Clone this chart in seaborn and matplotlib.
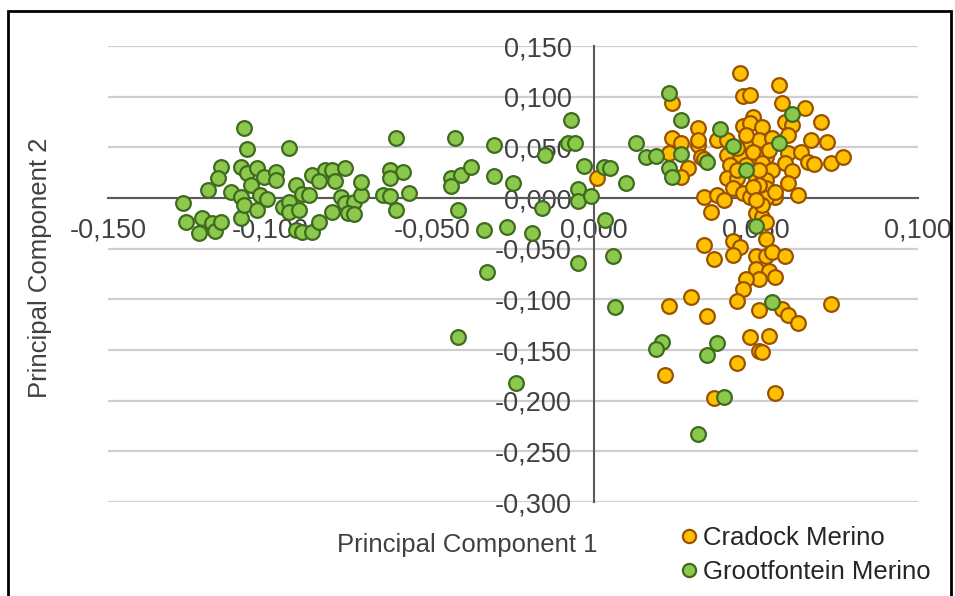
import matplotlib
matplotlib.use("Agg")
import matplotlib.pyplot as plt
import seaborn as sns
import pandas as pd
from matplotlib.ticker import FuncFormatter, FixedLocator
from matplotlib.lines import Line2D
from matplotlib.patches import Rectangle

# ---------------- data ----------------
series_names = ["Cradock Merino", "Grootfontein Merino"]

cradock_x = [0.045, 0.057, 0.046, 0.048, 0.058, 0.024, 0.065, 0.049, 0.046, 0.048,
             0.070, 0.032, 0.052, 0.059, 0.061, 0.024, 0.027, 0.032, 0.032, 0.038,
             0.041, 0.048, 0.051, 0.055, 0.060, 0.067, 0.072, 0.023, 0.033, 0.034,
             0.041, 0.045, 0.049, 0.053, 0.060, 0.064, 0.066, 0.068, 0.073, 0.077,
             0.029, 0.027, 0.042, 0.052, 0.055, 0.059, 0.061, 0.041, 0.044, 0.050,
             0.053, 0.060, 0.043, 0.046, 0.049, 0.053, 0.056, 0.063, 0.034, 0.038,
             0.040, 0.053, 0.036, 0.048, 0.050, 0.052, 0.053, 0.053, 0.034, 0.037,
             0.043, 0.045, 0.043, 0.050, 0.053, 0.055, 0.059, 0.050, 0.054, 0.056,
             0.051, 0.047, 0.046, 0.044, 0.051, 0.058, 0.060, 0.063, 0.073, 0.030,
             0.023, 0.035, 0.048, 0.054, 0.051, 0.052, 0.044, 0.022, 0.037, 0.056,
             0.001, 0.047, 0.051, 0.044, 0.051, 0.054, 0.047, 0.044, 0.056, 0.049,
             0.052, 0.050]
cradock_y = [0.123, 0.112, 0.101, 0.102, 0.094, 0.094, 0.089, 0.080, 0.071, 0.074,
             0.075, 0.069, 0.070, 0.075, 0.072, 0.059, 0.054, 0.052, 0.057, 0.057,
             0.057, 0.054, 0.057, 0.059, 0.062, 0.057, 0.055, 0.044, 0.040, 0.038,
             0.042, 0.042, 0.045, 0.040, 0.044, 0.045, 0.036, 0.034, 0.035, 0.040,
             0.030, 0.021, 0.033, 0.035, 0.028, 0.035, 0.027, 0.020, 0.020, 0.020,
             0.018, 0.015, 0.010, 0.005, 0.005, 0.010, 0.001, 0.003, 0.001, 0.003,
             -0.002, 0.000, -0.014, 0.001, -0.015, -0.019, -0.024, -0.040, -0.046, -0.060,
             -0.042, -0.048, -0.056, -0.057, -0.057, -0.053, -0.057, -0.070, -0.072, -0.078,
             -0.080, -0.080, -0.090, -0.102, -0.111, -0.110, -0.115, -0.123, -0.105, -0.098,
             -0.107, -0.116, -0.137, -0.136, -0.151, -0.152, -0.163, -0.175, -0.197, -0.192,
             0.020, 0.033, 0.013, 0.028, 0.028, 0.047, 0.062, 0.049, 0.006, 0.011,
             -0.007, -0.002]

groot_x = [-0.127, -0.126, -0.122, -0.121, -0.119, -0.118, -0.117, -0.115, -0.115, -0.116,
           -0.112, -0.109, -0.109, -0.109, -0.108, -0.107, -0.107, -0.108, -0.106, -0.104,
           -0.104, -0.103, -0.102, -0.101, -0.098, -0.098, -0.094, -0.096, -0.094, -0.094,
           -0.091, -0.092, -0.090, -0.088, -0.092, -0.090, -0.087, -0.085, -0.087, -0.083,
           -0.081, -0.077, -0.085, -0.080, -0.078, -0.077, -0.074, -0.072, -0.081, -0.076,
           -0.074, -0.072, -0.065, -0.063, -0.063, -0.059, -0.063, -0.061, -0.061, -0.057,
           -0.044, -0.041, -0.038, -0.031, -0.044, -0.043, -0.042, -0.031, -0.027, -0.034,
           -0.019, -0.033, -0.042, -0.024, -0.025, -0.016, -0.015, -0.008, -0.006, -0.007,
           -0.005, -0.005, -0.001, -0.003, -0.005,
           0.003, 0.005, 0.006, 0.0065, 0.0034, 0.010, 0.013, 0.016, 0.019, 0.023,
           0.027, 0.027, 0.023, 0.024, 0.039, 0.043, 0.035, 0.047, 0.057, 0.061,
           0.050, 0.055, 0.021, 0.019, 0.038, 0.035, 0.040, 0.032]
groot_y = [-0.005, -0.024, -0.035, -0.020, 0.008, -0.025, -0.033, -0.024, 0.031, 0.020,
           0.006, 0.001, -0.020, 0.031, 0.069, 0.048, 0.025, -0.007, 0.013, 0.030,
           -0.012, 0.003, 0.021, -0.001, 0.026, 0.018, 0.049, -0.009, -0.004, -0.014,
           -0.012, 0.013, 0.004, 0.003, -0.032, -0.034, -0.034, -0.024, 0.023, 0.028,
           0.028, 0.030, 0.017, 0.017, 0.001, -0.005, -0.004, 0.003, -0.014, -0.015,
           -0.016, 0.016, 0.003, 0.002, 0.028, 0.026, 0.020, 0.059, -0.012, 0.005,
           0.020, 0.023, 0.031, 0.022, 0.012, 0.059, -0.012, 0.052, -0.029, -0.032,
           -0.035, -0.073, -0.137, -0.183, 0.015, -0.010, 0.042, 0.054, 0.054, 0.077,
           0.009, -0.003, 0.002, 0.032, -0.064,
           0.031, 0.030, -0.057, -0.108, -0.022, 0.015, 0.054, 0.040, 0.041, 0.104,
           0.077, 0.043, 0.030, 0.021, 0.068, 0.051, 0.036, 0.028, 0.054, 0.083,
           -0.028, -0.103, -0.142, -0.149, -0.143, -0.155, -0.196, -0.233]

x_ticks = [-0.150, -0.100, -0.050, 0.000, 0.050, 0.100]
y_ticks = [-0.300, -0.250, -0.200, -0.150, -0.100, -0.050, 0.000, 0.050, 0.100, 0.150]
x_title = "Principal Component 1"
y_title = "Principal Component 2"

# ---------------- style ----------------
sns.set_theme(style="white")
plt.rcParams["font.family"] = ["Liberation Sans", "DejaVu Sans"]

W, H = 955, 596
fig = plt.figure(figsize=(W / 100, H / 100), dpi=100)
ax = fig.add_axes([108 / W, 1 - 502 / H, (918 - 108) / W, (502 - 46) / H])

fill_colors = {"Cradock Merino": "#FFC000", "Grootfontein Merino": "#8CC84B"}
edge_colors = {"Cradock Merino": "#9A5200", "Grootfontein Merino": "#3E6B1F"}

df_c = pd.DataFrame({"PC1": cradock_x, "PC2": cradock_y})
df_g = pd.DataFrame({"PC1": groot_x, "PC2": groot_y})

msize = 112
sns.scatterplot(data=df_c, x="PC1", y="PC2", ax=ax, s=msize,
                color=fill_colors[series_names[0]], edgecolor=edge_colors[series_names[0]],
                linewidth=1.6, legend=False, zorder=2)
sns.scatterplot(data=df_g, x="PC1", y="PC2", ax=ax, s=msize,
                color=fill_colors[series_names[1]], edgecolor=edge_colors[series_names[1]],
                linewidth=1.6, legend=False, zorder=2)

ax.set_xlim(x_ticks[0], x_ticks[-1])
ax.set_ylim(y_ticks[0], y_ticks[-1])
ax.xaxis.set_major_locator(FixedLocator(x_ticks))
ax.yaxis.set_major_locator(FixedLocator(y_ticks))
fmt = FuncFormatter(lambda v, p: f"{v:.3f}".replace(".", ","))
ax.xaxis.set_major_formatter(fmt)
ax.yaxis.set_major_formatter(fmt)

ax.set_axisbelow(True)
ax.yaxis.grid(True, color="#cfcfcf", linewidth=1.6)
ax.xaxis.grid(False)

for side in ["top", "right"]:
    ax.spines[side].set_visible(False)
for side in ["left", "bottom"]:
    ax.spines[side].set_position(("data", 0))
    ax.spines[side].set_color("#5a5a5a")
    ax.spines[side].set_linewidth(1.5)
    ax.spines[side].set_zorder(0.8)

ax.tick_params(axis="both", length=0, labelsize=19.5, labelcolor="#404040")
ax.tick_params(axis="x", pad=14)
ax.tick_params(axis="y", pad=16)
ax.set_xlabel("")
ax.set_ylabel("")

fs = 18.5
fig.text(467 / W, 1 - 545 / H, x_title, ha="center", va="center",
         fontsize=fs, color="#404040")
fig.text(40 / W, 1 - 268 / H, y_title, ha="center", va="center",
         rotation=90, fontsize=fs, color="#404040")

handles = [Line2D([], [], linestyle="none", marker="o", markersize=9.5,
                  markerfacecolor=fill_colors[n], markeredgecolor=edge_colors[n],
                  markeredgewidth=1.6) for n in series_names]
fig.legend(handles, series_names, loc="upper left",
           bbox_to_anchor=(681 / W, 1 - 526 / H), frameon=False,
           fontsize=fs, handlelength=0.6, handletextpad=0.25,
           labelspacing=0.4, borderpad=0, borderaxespad=0)

fig.add_artist(Rectangle((8 / W, -0.02), (951 - 8) / W, 1.02 - 11 / H,
                         transform=fig.transFigure, fill=False,
                         edgecolor="black", linewidth=2.0))

fig.savefig("out.png", dpi=100)
